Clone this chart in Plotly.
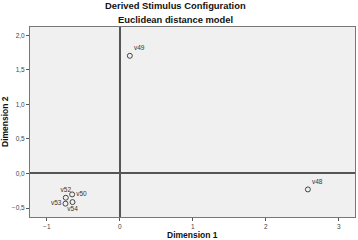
import plotly.graph_objects as go

labels = ["v48", "v49", "v50", "v52", "v53", "v54"]
dim1 = [2.575, 0.137, -0.653, -0.740, -0.744, -0.648]
dim2 = [-0.231, 1.703, -0.303, -0.351, -0.437, -0.414]
label_pos = ["top right", "top right", "middle right", "top center", "middle left", "bottom center"]

x_ticks = [-1, 0, 1, 2, 3]
y_ticks = [-0.5, 0.0, 0.5, 1.0, 1.5, 2.0]

FONT = "Liberation Sans, Arial"

fig = go.Figure()
fig.add_trace(go.Scatter(
    x=dim1, y=dim2, mode="markers+text", text=labels, textposition=label_pos,
    marker=dict(symbol="circle-open", size=5, color="#444444", line=dict(width=1)),
    textfont=dict(family=FONT, size=6.5, color="#333333"),
    showlegend=False, cliponaxis=False, hoverinfo="skip",
))

axis_common = dict(
    automargin=False,
    showgrid=False, zeroline=True, zerolinecolor="#555555", zerolinewidth=2,
    showline=True, mirror=True, linecolor="#777777", linewidth=1,
    ticks="outside", ticklen=3, tickcolor="#555555",
    tickfont=dict(family=FONT, size=6.5, color="#444444"),
)

title_font = dict(family=FONT, size=9.4, color="#111111")
axis_title_font = dict(family=FONT, size=8.5, color="#111111")

fig.update_layout(
    width=358, height=240,
    margin=dict(l=30, r=3, t=27, b=23),
    paper_bgcolor="white", plot_bgcolor="#f0f0f0",
    separators=",.",
    xaxis=dict(range=[-1.23, 3.22], tickvals=x_ticks, tickformat="d", **axis_common),
    yaxis=dict(range=[-0.63, 2.12], tickvals=y_ticks, tickformat=".1f", **axis_common),
    annotations=[
        dict(text="<b>Derived Stimulus Configuration</b>", x=0.449, xref="paper", yref="paper",
             y=1, yshift=22, yanchor="middle", showarrow=False, font=title_font),
        dict(text="<b>Euclidean distance model</b>", x=0.449, xref="paper", yref="paper",
             y=1, yshift=8, yanchor="middle", showarrow=False, font=title_font),
        dict(text="<b>Dimension 1</b>", x=0.5, xref="paper", yref="paper",
             y=0, yshift=-18, yanchor="middle", showarrow=False, font=axis_title_font),
        dict(text="<b>Dimension 2</b>", x=0, xref="paper", yref="paper", textangle=-90,
             y=0.5, xshift=-25, xanchor="center", yanchor="middle", showarrow=False,
             font=axis_title_font),
    ],
)

fig.write_html("out.html", config={"displayModeBar": False},
               post_script="document.body.style.margin='0px';")
